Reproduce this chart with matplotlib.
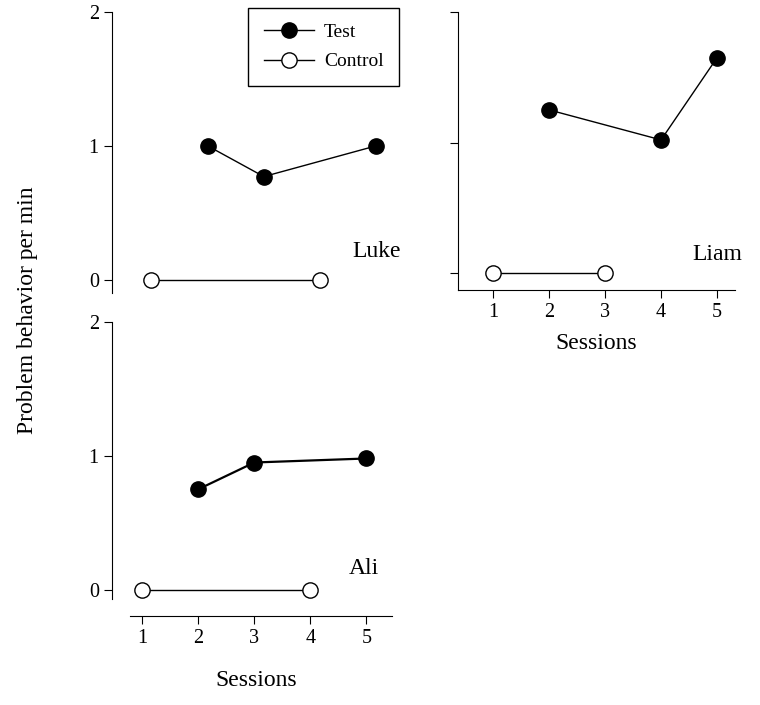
import matplotlib
matplotlib.use("Agg")
import matplotlib.pyplot as plt

plt.rcParams["font.family"] = "Liberation Serif"

luke_test_x = [2, 3, 5]; luke_test_y = [1.0, 0.77, 1.0]
luke_ctrl_x = [1, 4]; luke_ctrl_y = [0, 0]
liam_test_x = [2, 4, 5]; liam_test_y = [1.25, 1.02, 1.65]
liam_ctrl_x = [1, 3]; liam_ctrl_y = [0, 0]
ali_test_x = [2, 3, 5]; ali_test_y = [0.75, 0.95, 0.98]
ali_ctrl_x = [1, 4]; ali_ctrl_y = [0, 0]
sessions = [1, 2, 3, 4, 5]
yticks = [0, 1, 2]

W, H = 760, 705
fig = plt.figure(figsize=(7.6, 7.05), dpi=100)

def ax_px(l, r, t, b):
    return fig.add_axes([l / W, 1 - b / H, (r - l) / W, (b - t) / H])

mk = dict(markersize=11, markeredgecolor="black", color="black", lw=1)

def draw(ax, tx, ty, cx, cy, lw=1):
    t, = ax.plot(tx, ty, "o-", markerfacecolor="black", **{**mk, "lw": lw}, zorder=3)
    c, = ax.plot(cx, cy, "o-", markerfacecolor="white", **mk, zorder=3)
    for s in ["top", "right"]:
        ax.spines[s].set_visible(False)
    ax.patch.set_visible(False)
    ax.tick_params(labelsize=14.5, direction="out", length=6)
    return t, c

# Luke
a1 = ax_px(112, 410, 12, 293)
t, c = draw(a1, luke_test_x, luke_test_y, luke_ctrl_x, luke_ctrl_y)
a1.set_xlim(0.3, 5.6); a1.set_ylim(-0.1, 2)
a1.spines["bottom"].set_visible(False)
a1.set_xticks([])
a1.set_yticks(yticks)
a1.spines["left"].set_bounds(-0.1, 2)
a1.text(5.0, 0.17, "Luke", fontsize=17, ha="center")
leg = a1.legend([t, c], ["Test", "Control"], loc="upper left",
                bbox_to_anchor=(136 / 298, 1 + 4 / 281), borderaxespad=0,
                fontsize=14, fancybox=False, edgecolor="black", framealpha=1,
                borderpad=0.8, handlelength=2.6, handletextpad=0.5,
                labelspacing=0.6)
leg.get_frame().set_linewidth(1)

# Liam
a2 = ax_px(458, 735, 12, 290)
draw(a2, liam_test_x, liam_test_y, liam_ctrl_x, liam_ctrl_y)
a2.set_xlim(0.375, 5.32); a2.set_ylim(-0.13, 2)
a2.set_xticks(sessions); a2.set_yticks(yticks); a2.set_yticklabels([])
a2.set_xlabel("Sessions", fontsize=17, labelpad=8)
a2.text(5.0, 0.1, "Liam", fontsize=17, ha="center")

# Ali
a3 = ax_px(112, 400, 322, 603)
draw(a3, ali_test_x, ali_test_y, ali_ctrl_x, ali_ctrl_y, lw=1.6)
a3.set_xlim(0.46, 5.6); a3.set_ylim(-0.1, 2)
a3.set_xticks(sessions); a3.set_yticks(yticks)
a3.spines["bottom"].set_position(("outward", 9))
a3.spines["bottom"].set_bounds(0.79, 5.46)
a3.spines["left"].set_bounds(-0.07, 2)
a3.set_xlabel("Sessions", fontsize=17, labelpad=16)
a3.text(4.95, 0.12, "Ali", fontsize=17, ha="center")

fig.text(28 / W, 0.56, "Problem behavior per min", rotation=90, fontsize=17,
         ha="center", va="center")

fig.savefig("out.png", dpi=100)
